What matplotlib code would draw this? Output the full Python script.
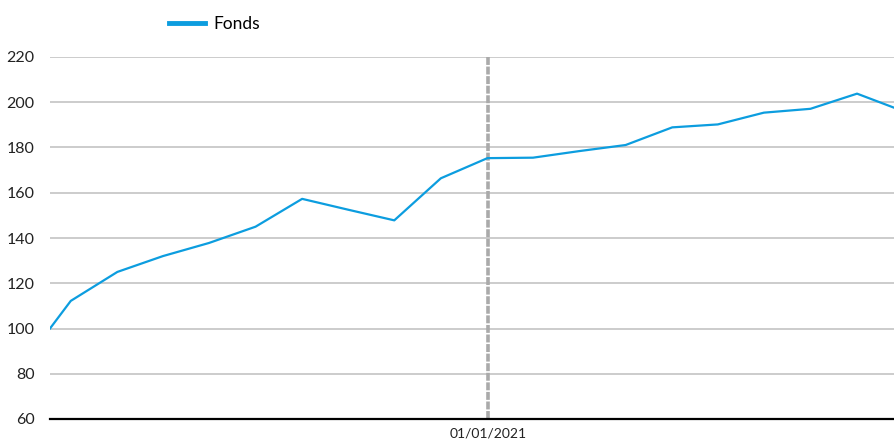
import pandas as pd
import matplotlib.pyplot as plt
import matplotlib.dates as mdates

plt.rcParams['font.family'] = ['Lato', 'DejaVu Sans']

dates = pd.to_datetime([
    "2018-08-20", "2018-09-30", "2018-12-31", "2019-03-31", "2019-06-30",
    "2019-09-30", "2019-12-31", "2020-03-31", "2020-06-30", "2020-09-30",
    "2020-12-31", "2021-03-31", "2021-06-30", "2021-09-30", "2021-12-31",
    "2022-03-31", "2022-06-30", "2022-09-30", "2022-12-31", "2023-03-14",
])
fonds = [100.0, 112.2, 125.0, 132.0, 137.8, 145.0, 157.3, 152.5, 147.8, 166.4,
         175.3, 175.5, 178.4, 181.1, 188.9, 190.2, 195.4, 197.1, 203.8, 197.6]
marker_date = pd.Timestamp("2021-01-01")
y_ticks = [60, 80, 100, 120, 140, 160, 180, 200, 220]

fig = plt.figure(figsize=(8.94, 4.42), dpi=100)
ax = fig.add_axes([50 / 894, 23 / 442, 844 / 894, 362 / 442])

for y in y_ticks[1:]:
    ax.axhline(y, color="#cccccc", linewidth=1.4, zorder=1)

ax.axvline(marker_date, color="#aaaaaa", linewidth=2.6, linestyle=(0, (2.2, 0.45)), zorder=2)
ax.plot(dates, fonds, color="#0c9ddf", linewidth=1.6, label="Fonds", zorder=3)

ax.set_xlim(dates[0], dates[-1])
ax.set_ylim(60, 220)
ax.set_yticks(y_ticks)
ax.set_xticks([marker_date])
ax.xaxis.set_major_formatter(mdates.DateFormatter("%d/%m/%Y"))

for s in ["top", "right", "left"]:
    ax.spines[s].set_visible(False)
ax.spines["bottom"].set_color("black")
ax.spines["bottom"].set_linewidth(1.6)
ax.spines["bottom"].set_zorder(4)

ax.tick_params(axis="y", length=0, pad=11, labelsize=11.5, labelcolor="#222222")
ax.tick_params(axis="x", length=0, pad=6, labelsize=10, labelcolor="#222222")

leg = fig.legend(loc="upper left", bbox_to_anchor=(153 / 894, 1.0), frameon=False,
                 fontsize=12.5, handlelength=2.1, handletextpad=0.45)
for line in leg.get_lines():
    line.set_linewidth(3.5)

fig.savefig("out.png", dpi=100)
